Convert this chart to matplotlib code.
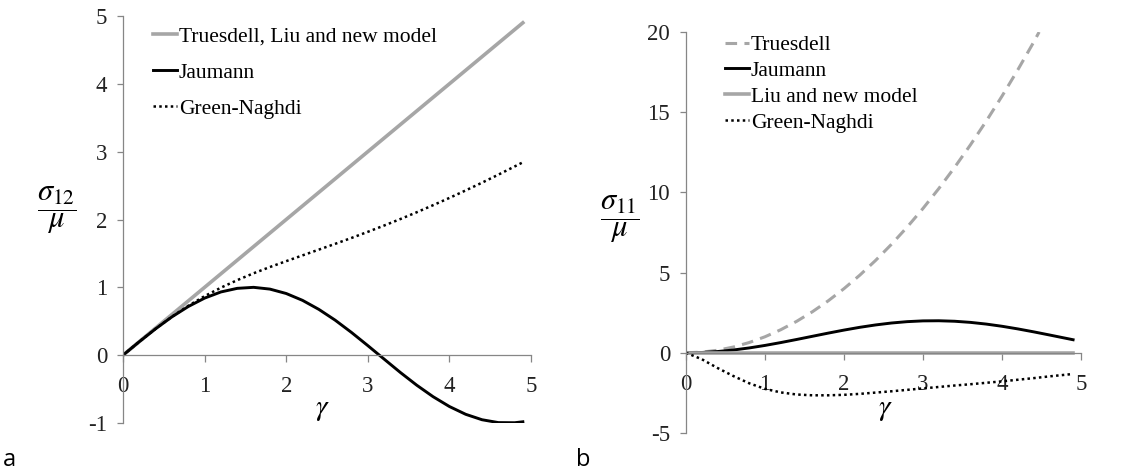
import matplotlib
matplotlib.use("Agg")
import matplotlib.pyplot as plt

# ---------------- data ---------------- #
gamma = [0.0, 0.2, 0.4, 0.6, 0.8, 1.0, 1.2, 1.4, 1.6, 1.8, 2.0, 2.2, 2.4,
         2.6, 2.8, 3.0, 3.2, 3.4, 3.6, 3.8, 4.0, 4.2, 4.4, 4.6, 4.8, 4.9]

# panel a: shear stress sigma_12 / mu
s12_truesdell = [0.0, 0.2, 0.4, 0.6, 0.8, 1.0, 1.2, 1.4, 1.6, 1.8, 2.0, 2.2, 2.4,
                 2.6, 2.8, 3.0, 3.2, 3.4, 3.6, 3.8, 4.0, 4.2, 4.4, 4.6, 4.8, 4.9]
s12_jaumann = [0.0, 0.199, 0.389, 0.565, 0.717, 0.841, 0.932, 0.985, 1.0, 0.974,
               0.909, 0.808, 0.675, 0.516, 0.335, 0.141, -0.058, -0.256, -0.443,
               -0.612, -0.757, -0.872, -0.952, -0.994, -0.996, -0.982]
s12_green = [0.0, 0.199, 0.39, 0.567, 0.728, 0.87, 0.995, 1.106, 1.207, 1.299,
             1.386, 1.471, 1.556, 1.641, 1.728, 1.818, 1.911, 2.007, 2.107,
             2.211, 2.318, 2.429, 2.543, 2.661, 2.782, 2.843]

# panel b: normal stress sigma_11 / mu
gamma_t = [0.0, 0.2, 0.4, 0.6, 0.8, 1.0, 1.2, 1.4, 1.6, 1.8, 2.0, 2.2, 2.4,
           2.6, 2.8, 3.0, 3.2, 3.4, 3.6, 3.8, 4.0, 4.2, 4.4, 4.47]
s11_truesdell = [0.0, 0.04, 0.16, 0.36, 0.64, 1.0, 1.44, 1.96, 2.56, 3.24, 4.0,
                 4.84, 5.76, 6.76, 7.84, 9.0, 10.24, 11.56, 12.96, 14.44, 16.0,
                 17.64, 19.36, 20.0]
s11_jaumann = [0.0, 0.02, 0.079, 0.175, 0.303, 0.46, 0.638, 0.83, 1.029, 1.227,
               1.416, 1.589, 1.737, 1.857, 1.942, 1.99, 1.998, 1.967, 1.897,
               1.791, 1.654, 1.49, 1.307, 1.112, 0.913, 0.814]
s11_liu = [0.0] * 26
s11_green = [0.0, -0.4, -0.95, -1.45, -1.9, -2.25, -2.47, -2.6, -2.65, -2.65,
             -2.62, -2.56, -2.48, -2.4, -2.31, -2.22, -2.13, -2.04, -1.96,
             -1.87, -1.78, -1.68, -1.58, -1.47, -1.37, -1.32]

x_ticks = [0, 1, 2, 3, 4, 5]
y_ticks_a = [-1, 0, 1, 2, 3, 4, 5]
y_ticks_b = [-5, 0, 5, 10, 15, 20]

# ---------------- style ---------------- #
plt.rcParams["font.family"] = ["Liberation Serif", "DejaVu Serif"]
plt.rcParams["mathtext.fontset"] = "stix"
plt.rcParams["axes.unicode_minus"] = False

GREY = "#A6A6A6"
AXIS = "#868686"
W, H = 1138, 472

fig = plt.figure(figsize=(W / 100, H / 100), dpi=100)
ax_a = fig.add_axes([123 / W, 1 - 423 / H, 408 / W, 407 / H])
ax_b = fig.add_axes([686 / W, 1 - 433 / H, 395 / W, 401 / H])


def style_axes(ax, yticks, ylim):
    ax.set_xlim(0, 5)
    ax.set_ylim(*ylim)
    for side in ("top", "right"):
        ax.spines[side].set_visible(False)
    ax.spines["bottom"].set_position(("data", 0))
    for side in ("left", "bottom"):
        ax.spines[side].set_color(AXIS)
        ax.spines[side].set_linewidth(0.9)
    ax.set_xticks(x_ticks)
    ax.set_xticklabels([str(v) for v in x_ticks])
    ax.set_yticks(yticks)
    ax.set_yticklabels([str(v) for v in yticks])
    ax.tick_params(axis="both", colors=AXIS, labelcolor="#222222",
                   labelsize=16.5, width=0.9)
    ax.tick_params(axis="y", length=4.5, pad=7)
    ax.tick_params(axis="x", length=5, pad=10)
    ax.patch.set_alpha(0)


leg_kw = dict(bbox_transform=fig.transFigure, frameon=False, fontsize=15.5,
              handlelength=1.1, handletextpad=0.1, borderpad=0,
              borderaxespad=0, loc="upper left")

# ---------------- panel a ---------------- #
ax_a.plot(gamma, s12_truesdell, color=GREY, lw=2.6,
          label="Truesdell, Liu and new model")
ax_a.plot(gamma, s12_jaumann, color="black", lw=2.1, label="Jaumann")
ax_a.plot(gamma, s12_green, color="black", lw=1.8, linestyle=(0, (1, 1.3)),
          label="Green-Naghdi")
style_axes(ax_a, y_ticks_a, (-1, 5))
ax_a.legend(bbox_to_anchor=(153 / W, 1 - 26 / H), labelspacing=0.76, **leg_kw)

# ---------------- panel b ---------------- #
ax_b.plot(gamma_t, s11_truesdell, color=GREY, lw=2.2,
          linestyle=(0, (3.8, 2.4)), label="Truesdell")
ax_b.plot(gamma, s11_jaumann, color="black", lw=2.1, label="Jaumann")
ax_b.plot(gamma, s11_liu, color=GREY, lw=2.6, label="Liu and new model")
ax_b.plot(gamma, s11_green, color="black", lw=1.8, linestyle=(0, (1, 1.3)),
          label="Green-Naghdi")
style_axes(ax_b, y_ticks_b, (-5, 20))
ax_b.legend(bbox_to_anchor=(725 / W, 1 - 35 / H), labelspacing=0.27, **leg_kw)

# axis titles
fig.text(57 / W, 1 - 210 / H, r"$\dfrac{\sigma_{12}}{\mu}$", fontsize=22,
         ha="center", va="center")
fig.text(620 / W, 1 - 219 / H, r"$\dfrac{\sigma_{11}}{\mu}$", fontsize=22,
         ha="center", va="center")
fig.text(322 / W, 1 - 410 / H, r"$\gamma$", fontsize=21,
         ha="center", va="center")
fig.text(885 / W, 1 - 410 / H, r"$\gamma$", fontsize=21,
         ha="center", va="center")

# panel letters
fig.text(9 / W, 1 - 460 / H, "a", fontsize=17, family="Open Sans",
         ha="center", va="center")
fig.text(583 / W, 1 - 460 / H, "b", fontsize=17, family="Open Sans",
         ha="center", va="center")

fig.savefig("out.png", dpi=100)
